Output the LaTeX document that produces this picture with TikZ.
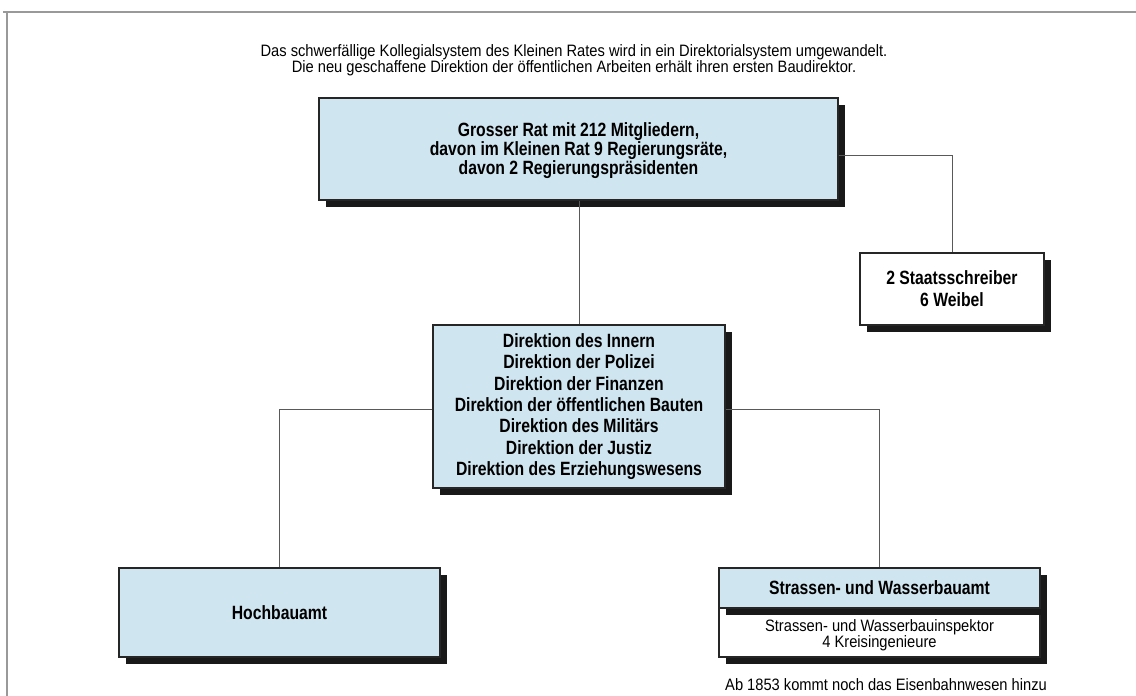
\documentclass[tikz,border=0pt]{standalone}
\usepackage{fontspec}
\setmainfont{Liberation Sans}[FakeStretch=0.89]
\newfontfamily\amtfont{Liberation Sans}[FakeStretch=0.82]
\usepackage{tikz}
\usetikzlibrary{positioning, shadows}
\usepackage{xcolor}
\definecolor{amtblue}{RGB}{207,229,240}

\begin{document}
\begin{tikzpicture}[x=1pt, y=-1pt,
    amt/.style={draw=black!85, line width=1.2pt, fill=amtblue, align=center,
      inner sep=0pt, font=\amtfont\fontsize{19.2}{21.3}\selectfont\bfseries,
      drop shadow={shadow xshift=7pt, shadow yshift=-7pt, fill=black!90, opacity=1}},
    plain/.style={font=\fontsize{16.5}{16}\selectfont, align=center, inner sep=0pt},
    link/.style={draw=black!65, line width=0.9pt}]
  \useasboundingbox (0,0) rectangle (1136,696);
  \fill[white] (0,0) rectangle (1136,696);
  \draw[black!40, line width=2pt] (3,12) -- (1136,12);
  \draw[black!40, line width=2pt] (7,12) -- (7,696);

  \node[plain] (titel) at (574,60)
    {Das schwerfällige Kollegialsystem des Kleinen Rates wird in ein Direktorialsystem umgewandelt.\\
     Die neu geschaffene Direktion der öffentlichen Arbeiten erhält ihren ersten Baudirektor.};

  \node[amt, minimum width=519pt, minimum height=102pt,
        font=\amtfont\fontsize{19.2}{17.5}\selectfont\bfseries] (grossrat) at (578.5,149)
    {\rule{0pt}{18pt}Grosser Rat mit 212 Mitgliedern,\\ davon im Kleinen Rat 9 Regierungsräte,\\ davon 2 Regierungspräsidenten};

  \node[amt, fill=white, minimum width=184pt, minimum height=72pt,
        font=\amtfont\fontsize{19.2}{22}\selectfont\bfseries] (staat) at (952,289)
    {2 Staatsschreiber\\ 6 Weibel};

  \node[amt, minimum width=292pt, minimum height=163pt] (direktion) at (579,406.5)
    {Direktion des Innern\\ Direktion der Polizei\\ Direktion der Finanzen\\
     Direktion der öffentlichen Bauten\\ Direktion des Militärs\\
     Direktion der Justiz\\ Direktion des Erziehungswesens};

  \node[amt, minimum width=321pt, minimum height=89pt] (hochbau) at (279.5,612.5) {Hochbauamt};

  \node[amt, fill=white, minimum width=321pt, minimum height=89pt] (strassen) at (879.5,612.5) {};
  \node[amt, drop shadow={opacity=0}, minimum width=321pt, minimum height=40pt,
        anchor=north] (strassenkopf) at (strassen.north) {Strassen- und Wasserbauamt};
  \node[plain, below=11pt of strassenkopf] (strassenteil)
    {Strassen- und Wasserbauinspektor\\ 4 Kreisingenieure};

  \node[plain, anchor=west] (eisenbahn) at (725,685)
    {Ab 1853 kommt noch das Eisenbahnwesen hinzu};

  \draw[link] (direktion.north) -- (direktion.north |- grossrat.south);
  \draw[link] ([yshift=-6pt]grossrat.east) -| (staat.north);
  \draw[link] ([yshift=-3pt]direktion.west) -| (hochbau.north);
  \draw[link] ([yshift=-3pt]direktion.east) -| (strassen.north);
\end{tikzpicture}
\end{document}
